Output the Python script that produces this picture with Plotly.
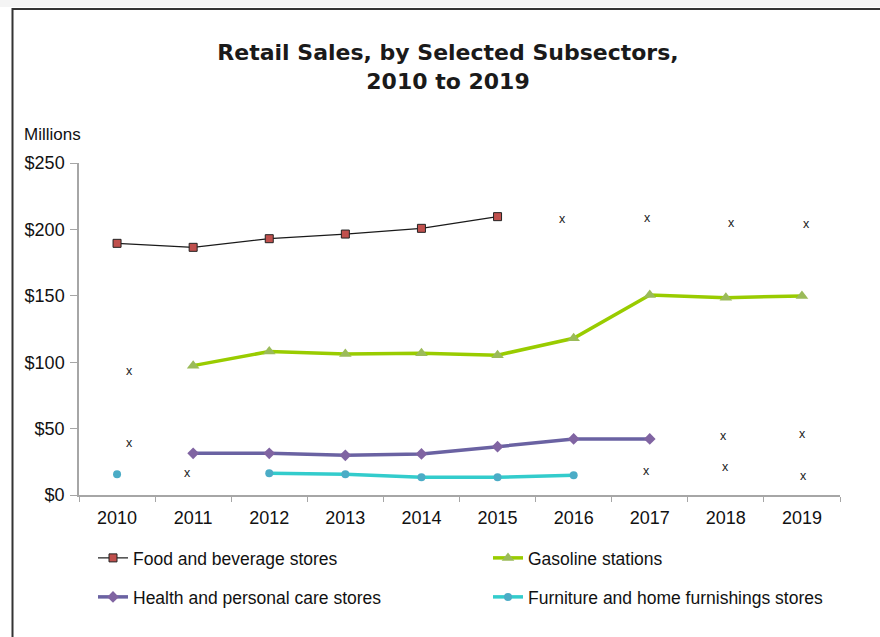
import plotly.graph_objects as go

# Annual retail sales (millions of dollars); None = value suppressed
years = ["2010", "2011", "2012", "2013", "2014", "2015", "2016", "2017", "2018", "2019"]
food_beverage = [189.5, 186.5, 193, 196.5, 200.8, 209.6, None, None, None, None]
gasoline = [None, 97.4, 108, 106.2, 106.7, 105.3, 118, 150.6, 148.6, 149.9]
health_personal = [None, 31.4, 31.4, 29.9, 30.9, 36.4, 42.2, 42.2, None, None]
furniture_home = [15.6, None, 16.3, 15.6, 13.3, 13.3, 14.8, None, None, None]

# Suppressed ("x") entries: year and approximate level where the marker sits
suppressed_years = ["2010", "2010", "2011", "2016", "2017", "2018", "2019",
                    "2017", "2018", "2019", "2018", "2019"]
suppressed_levels = [93.6, 39.4, 16.8, 207.6, 208.8, 205, 204.3,
                     18.3, 21.3, 14.3, 44.7, 45.7]
suppressed_shift = [12, 12, -6, -11, -2, 6, 5, -3, 0, 2, -2, 1]

W, H = 880, 637
L, R, T, B = 79, 40, 163, 142
PW, PH = W - L - R, H - T - B


def px_x(px):
    return (px - L) / PW


def px_y(py):
    return (H - B - py) / PH


FONT = "Liberation Sans, Arial, sans-serif"

fig = go.Figure()

series = [
    ("Food and beverage stores", food_beverage, "legend",
     dict(color="#1a1a1a", width=1.2),
     dict(symbol="square", size=8, color="#C0504D", line=dict(color="#222222", width=1))),
    ("Gasoline stations", gasoline, "legend2",
     dict(color="#99CC00", width=3.5),
     dict(symbol="triangle-up", size=11, color="#9BBB59", line=dict(width=0))),
    ("Health and personal care stores", health_personal, "legend3",
     dict(color="#6A62A2", width=3.5),
     dict(symbol="diamond", size=9, color="#8064A2", line=dict(width=0))),
    ("Furniture and home furnishings stores", furniture_home, "legend4",
     dict(color="#33CCCC", width=3.5),
     dict(symbol="circle", size=8, color="#4BACC6", line=dict(width=0))),
]

for name, vals, lg, line, marker in series:
    fig.add_trace(go.Scatter(
        x=years, y=vals, name=name, mode="lines+markers",
        line=line, marker=marker, connectgaps=False, legend=lg,
    ))

for yr, lvl, sh in zip(suppressed_years, suppressed_levels, suppressed_shift):
    fig.add_annotation(x=years.index(yr), y=lvl, text="x", showarrow=False, xshift=sh,
                       font=dict(family=FONT, size=12.5, color="#1a1a1a"))

# "Millions" unit label above the value axis
fig.add_annotation(xref="paper", yref="paper", x=px_x(22), y=px_y(134),
                   xanchor="left", yanchor="middle", text="Millions", showarrow=False,
                   font=dict(family=FONT, size=17, color="#111111"))

# Outer frame of the chart
shapes = [
    dict(type="rect", xref="paper", yref="paper", x0=px_x(-5), x1=px_x(W + 5),
         y0=px_y(7), y1=px_y(-5), fillcolor="#f4f4f4", line=dict(width=0), layer="below"),
    dict(type="line", xref="paper", yref="paper", x0=px_x(12), x1=px_x(W + 5),
         y0=px_y(9), y1=px_y(9), line=dict(color="#333333", width=2)),
    dict(type="line", xref="paper", yref="paper", x0=px_x(12.5), x1=px_x(12.5),
         y0=px_y(8), y1=px_y(H + 5), line=dict(color="#333333", width=2)),
]

legend_pos = {"legend": (93, 558), "legend2": (488, 558),
              "legend3": (93, 597), "legend4": (488, 597)}
legend_layout = {}
for key, (lx, ly) in legend_pos.items():
    legend_layout[key] = dict(
        x=px_x(lx), y=px_y(ly), xanchor="left", yanchor="middle",
        xref="paper", yref="paper", bgcolor="rgba(0,0,0,0)",
        font=dict(family=FONT, size=17.5, color="#111111"),
        itemwidth=30, borderwidth=0,
    )

fig.update_layout(
    width=W, height=H,
    margin=dict(l=L, r=R, t=T, b=B, pad=0),
    paper_bgcolor="white", plot_bgcolor="white",
    showlegend=True,
    title=dict(
        text="Retail Sales, by Selected Subsectors,<br>2010 to 2019",
        x=448 / W, xanchor="center", xref="container",
        y=1 - 60 / H, yanchor="middle", yref="container",
        font=dict(family="DejaVu Sans, sans-serif", size=22, color="#1a1a1a", weight=700),
    ),
    xaxis=dict(
        type="category", categoryorder="array", categoryarray=years,
        range=[-0.5, 9.5], showline=True, linecolor="#A6A6A6", linewidth=1.5,
        ticks="outside", tickson="boundaries", ticklen=5, tickcolor="#A6A6A6",
        tickwidth=1, showgrid=False, zeroline=False, ticklabelstandoff=6,
        tickfont=dict(family=FONT, size=18, color="#111111"),
    ),
    yaxis=dict(
        range=[0, 250], tickvals=[0, 50, 100, 150, 200, 250],
        ticktext=["$0", "$50", "$100", "$150", "$200", "$250"],
        showline=True, linecolor="#A6A6A6", linewidth=1.5,
        ticks="outside", ticklen=7, tickcolor="#A6A6A6", tickwidth=1,
        showgrid=False, zeroline=False, ticklabelstandoff=2,
        tickfont=dict(family=FONT, size=18, color="#111111"),
    ),
    shapes=shapes,
    **legend_layout,
)

fig.write_html("out.html")
